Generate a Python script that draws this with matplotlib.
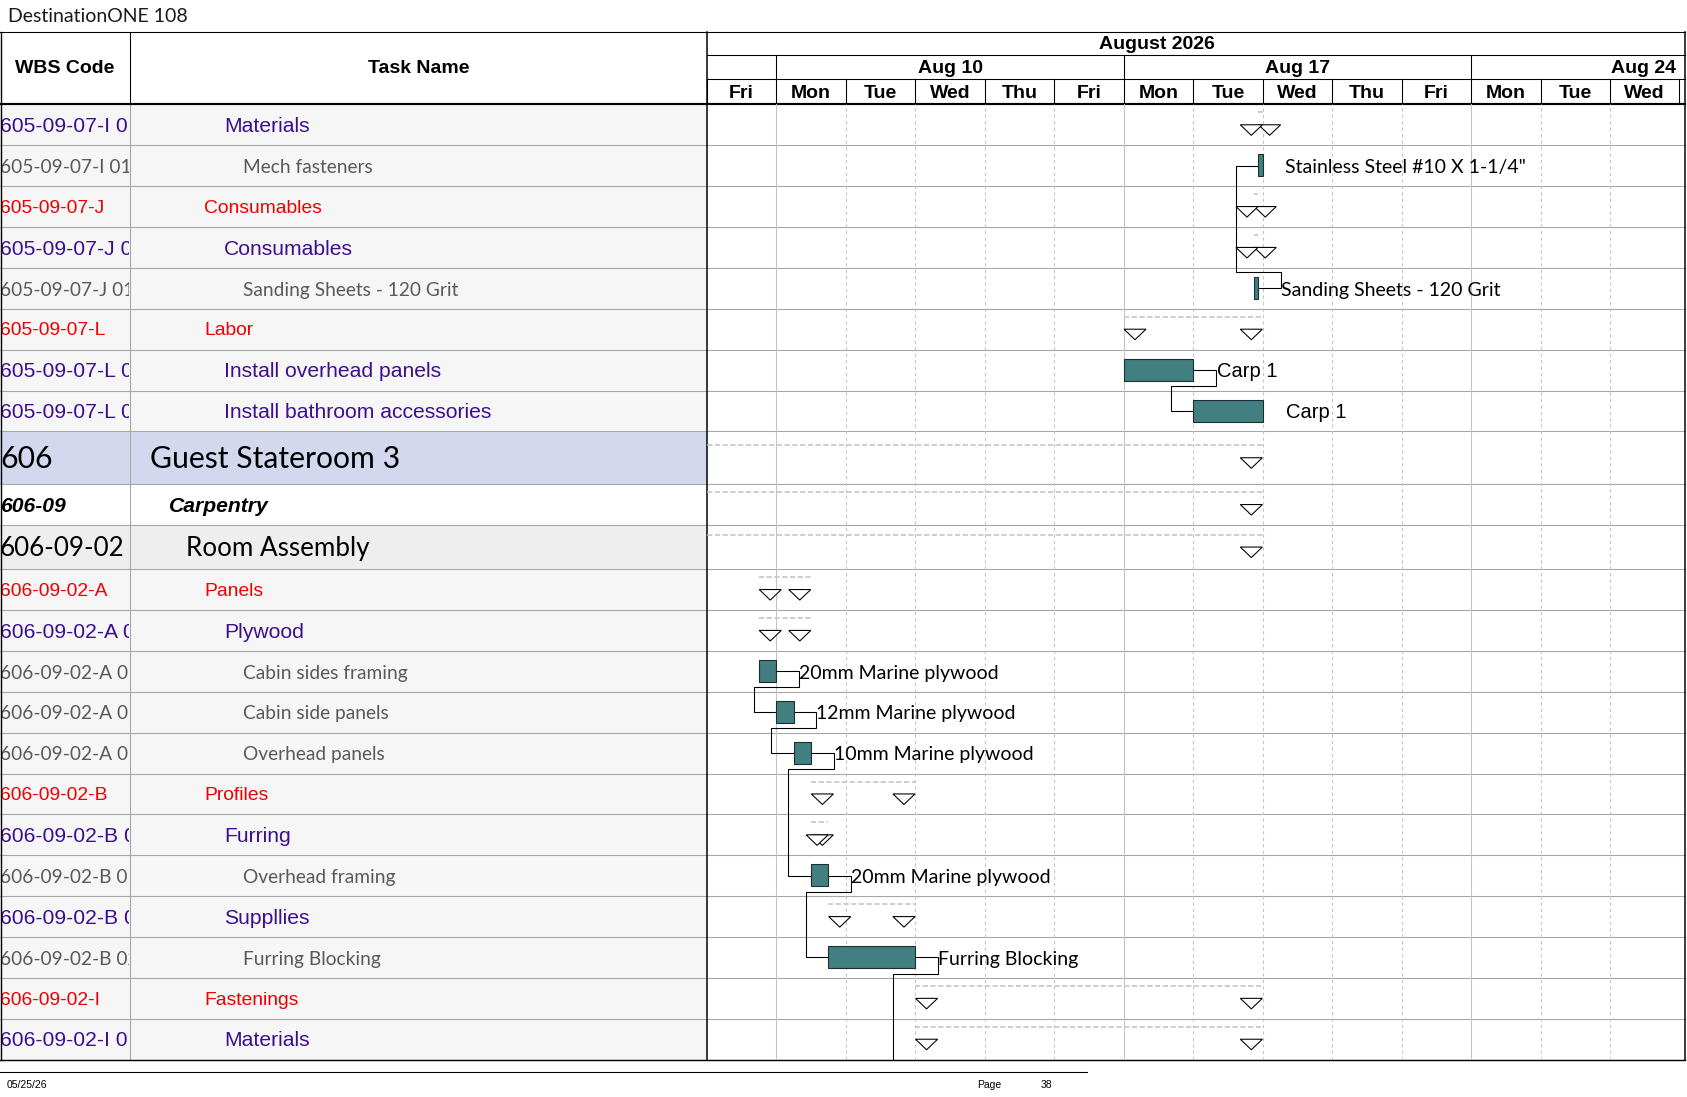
import matplotlib
matplotlib.use('Agg')
import matplotlib.pyplot as plt
from matplotlib.patches import Rectangle, Polygon
import pandas as pd

# ---- Daten ----
days = pd.to_datetime(['2026-08-07', '2026-08-10', '2026-08-11', '2026-08-12', '2026-08-13',
                       '2026-08-14', '2026-08-17', '2026-08-18', '2026-08-19', '2026-08-20',
                       '2026-08-21', '2026-08-24', '2026-08-25', '2026-08-26'])

wbs = ['605-09-07-I 01', '605-09-07-I 01-01', '605-09-07-J', '605-09-07-J 01',
       '605-09-07-J 01-01', '605-09-07-L', '605-09-07-L 01', '605-09-07-L 02',
       '606', '606-09', '606-09-02', '606-09-02-A', '606-09-02-A 01',
       '606-09-02-A 01-01', '606-09-02-A 01-02', '606-09-02-A 01-03', '606-09-02-B',
       '606-09-02-B 01', '606-09-02-B 01-01', '606-09-02-B 02', '606-09-02-B 02-01',
       '606-09-02-I', '606-09-02-I 01']
names = ['Materials', 'Mech fasteners', 'Consumables', 'Consumables',
         'Sanding Sheets - 120 Grit', 'Labor', 'Install overhead panels',
         'Install bathroom accessories', 'Guest Stateroom 3', 'Carpentry', 'Room Assembly',
         'Panels', 'Plywood', 'Cabin sides framing', 'Cabin side panels', 'Overhead panels',
         'Profiles', 'Furring', 'Overhead framing', 'Suppllies', 'Furring Blocking',
         'Fastenings', 'Materials']
levels = ['mat', 'item', 'grp', 'mat', 'item', 'grp', 'mat', 'mat', 'l1', 'l2', 'l3',
          'grp', 'mat', 'item', 'item', 'item', 'grp', 'mat', 'item', 'mat', 'item',
          'grp', 'mat']

# Sammelvorgänge (Zeile, Start, Ende) in Arbeitstagen ab Fr 07.08.
sum_rows = [0, 2, 3, 5, 8, 9, 10, 11, 12, 16, 17, 19, 21, 22]
sum_start = [7.9375, 7.875, 7.875, 6.0, -3.0, -3.0, -3.0, 0.75, 0.75, 1.5, 1.5, 1.75, 3.0, 3.0]
sum_finish = [8.0, 7.9375, 7.9375, 8.0, 8.0, 8.0, 8.0, 1.5, 1.5, 3.0, 1.75, 3.0, 8.0, 8.0]

# Vorgänge (Zeile 23 = nächste Seite)
task_rows = [1, 4, 6, 7, 13, 14, 15, 18, 20, 23]
task_start = [7.9375, 7.875, 6.0, 7.0, 0.75, 1.0, 1.25, 1.5, 1.75, 3.0]
task_finish = [8.0, 7.9375, 7.0, 8.0, 1.0, 1.25, 1.5, 1.75, 3.0, 3.0625]
task_labels = ['Stainless Steel #10 X 1-1/4"', 'Sanding Sheets - 120 Grit', 'Carp 1', 'Carp 1',
               '20mm Marine plywood', '12mm Marine plywood', '10mm Marine plywood',
               '20mm Marine plywood', 'Furring Blocking', '']
task_label_font = ['cal', 'cal', 'arial', 'arial', 'cal', 'cal', 'cal', 'cal', 'cal', 'cal']

# Verknüpfungen (Index Vorgänger, Index Nachfolger, Art)
link_pred = [0, 2, 4, 5, 6, 7, 8]
link_succ = [1, 3, 5, 6, 7, 8, 9]
link_type = ['SF', 'FS', 'FS', 'FS', 'FS', 'FS', 'FS']

# ---- Layout (Pixel der Vorlage) ----
W, H = 1568, 1019.7
X_WBS, X_NAME, X_GANTT, X_RIGHT = 0, 121, 657, 1566
Y_TOP, Y_M, Y_W, Y_BODY = 30, 51, 73, 97
DAYW = 64.571
TY = 1.6  # Textversatz nach unten
row_h = [38] * 8 + [49, 38, 41] + [38] * 13
row_top = [Y_BODY]
for h in row_h[:-1]:
    row_top.append(row_top[-1] + h)
row_mid = [t + h / 2 for t, h in zip(row_top, row_h)]
N = len(wbs)
Y_BOTTOM = row_top[N]

ARIAL = 'Liberation Sans'
CAL = 'Lato'
PURPLE = '#3d0f8f'
RED = '#ee0000'
GREY = '#595959'
TEAL = '#417f80'
LINE = '#a6a6a6'
px = 0.72 * 1687 / 1568  # Punkt pro Vorlage-Pixel
HS = 14  # Kopfzeilen-Schriftgröße

st = {
    'mat':  dict(x=208, fam=ARIAL, size=15.2, color=PURPLE, weight='normal', style='normal', bg='#f6f6f6'),
    'item': dict(x=226, fam=CAL, size=13.8, color=GREY, weight='normal', style='normal', bg='#f6f6f6'),
    'grp':  dict(x=190, fam=ARIAL, size=13.9, color=RED, weight='normal', style='normal', bg='#f6f6f6'),
    'l1':   dict(x=139, fam=CAL, size=21.7, color='black', weight='normal', style='normal', bg='#d3d8ef'),
    'l2':   dict(x=157, fam=ARIAL, size=15.2, color='black', weight='bold', style='italic', bg='white'),
    'l3':   dict(x=173, fam=CAL, size=18.7, color='black', weight='normal', style='normal', bg='#eeeeee'),
}

fig = plt.figure(figsize=(16.87, 10.97), dpi=100)
base = fig.add_axes([0, 0, 1, 1])
base.set_xlim(0, W)
base.set_ylim(H, 0)
base.axis('off')

# Titel und Fußzeile
base.text(7, 14 + TY, 'DestinationONE 108', family=CAL, fontsize=14,
          color='#1a1a1a', ha='left', va='center')
base.plot([0, 1010], [996, 996], color='black', lw=px)
base.text(6.5, 1008.5, '05/25/26', family=ARIAL, fontsize=7.5, ha='left', va='center')
base.text(908.6, 1008.5, 'Page', family=ARIAL, fontsize=7.5, ha='left', va='center')
base.text(967, 1008.5, '38', family=ARIAL, fontsize=7.5, ha='left', va='center')

# Tabelle links
for i in range(N):
    s = st[levels[i]]
    base.add_patch(Rectangle((X_WBS, row_top[i]), X_GANTT - X_WBS, row_h[i],
                             facecolor=s['bg'], edgecolor='none', zorder=0))
    clip = Rectangle((X_WBS, row_top[i]), X_NAME - X_WBS - 1, row_h[i], transform=base.transData)
    t = base.text(X_WBS, row_mid[i] + TY, wbs[i], family=s['fam'], fontsize=s['size'], color=s['color'],
                  fontweight=s['weight'], fontstyle=s['style'], ha='left', va='center', clip_on=True)
    t.set_clip_path(clip)
    base.text(s['x'], row_mid[i] + TY, names[i], family=s['fam'], fontsize=s['size'], color=s['color'],
              fontweight=s['weight'], fontstyle=s['style'], ha='left', va='center')
    base.plot([0, X_RIGHT], [row_top[i] + row_h[i]] * 2, color=LINE, lw=px, zorder=1)
base.plot([X_NAME, X_NAME], [Y_BODY, Y_BOTTOM], color=LINE, lw=px, zorder=1)

# Kopfzeile
base.text((X_WBS + X_NAME) / 2, 62 + TY, 'WBS Code', family=ARIAL, fontweight='bold', fontsize=HS,
          ha='center', va='center')
base.text((X_NAME + X_GANTT) / 2, 62 + TY, 'Task Name', family=ARIAL, fontweight='bold', fontsize=HS,
          ha='center', va='center')
base.text(1075, 40 + TY, days[0].strftime('%B %Y'), family=ARIAL, fontweight='bold', fontsize=HS,
          ha='center', va='center')


def dx(t):
    return X_GANTT + DAYW * t


for i, d in enumerate(days):
    base.text(dx(i + 0.5), 85 + TY, d.strftime('%a'), family=ARIAL, fontweight='bold', fontsize=HS,
              ha='center', va='center')
    base.plot([dx(i), dx(i)], [Y_W, Y_BODY], color='black', lw=px)
    if d.weekday() == 0:
        base.text(min(dx(i + 2.5), X_RIGHT - 38), 62 + TY, d.strftime('%b %d').replace(' 0', ' '),
                  family=ARIAL, fontweight='bold', fontsize=HS, ha='center', va='center')
        base.plot([dx(i), dx(i)], [Y_M, Y_W], color='black', lw=px)
base.plot([dx(len(days)), dx(len(days))], [Y_W, Y_BODY], color='black', lw=px)
base.plot([X_GANTT, X_RIGHT], [Y_M, Y_M], color='black', lw=px)
base.plot([X_GANTT, X_RIGHT], [Y_W, Y_W], color='black', lw=px)

# Rahmen
base.plot([0, X_RIGHT], [Y_TOP, Y_TOP], color='black', lw=px)
base.plot([0, X_RIGHT], [Y_BODY, Y_BODY], color='black', lw=2 * px, zorder=5)
base.plot([0, X_RIGHT], [Y_BOTTOM, Y_BOTTOM], color='black', lw=1.3 * px, zorder=5)
base.plot([0.7, 0.7], [Y_TOP, Y_BOTTOM], color='black', lw=1.3 * px, zorder=5)
base.plot([X_NAME, X_NAME], [Y_TOP, Y_BODY], color='black', lw=px)
base.plot([X_GANTT, X_GANTT], [Y_TOP, Y_BOTTOM], color='black', lw=1.4 * px, zorder=5)
base.plot([X_RIGHT, X_RIGHT], [Y_TOP, Y_BOTTOM], color='black', lw=1.4 * px, zorder=5)

# ---- Gantt ----
ax = fig.add_axes([X_GANTT / W, 1 - Y_BOTTOM / H, (X_RIGHT - X_GANTT) / W, (Y_BOTTOM - Y_BODY) / H])
ax.set_xlim(0, (X_RIGHT - X_GANTT) / DAYW)
ax.set_ylim(Y_BOTTOM, Y_BODY)
ax.axis('off')
ax.patch.set_alpha(0)

for i, d in enumerate(days):
    if i == 0:
        continue
    if d.weekday() == 0:
        ax.axvline(i, color='#c4c4c4', lw=px, zorder=1)
    else:
        ax.axvline(i, color='#c4c4c4', lw=px, ls=(0, (3, 3)), zorder=1)

p = 1 / DAYW  # Tage pro Pixel
tw, th = 20.5 * p, 9.8
for r, s, f in zip(sum_rows, sum_start, sum_finish):
    m = row_mid[r]
    ax.plot([s, f], [m - 11.5, m - 11.5], color='#c8c8c8', lw=1.6 * px, ls=(0, (3, 1.5)), zorder=2)
    for c in (s + 10.5 * p, f - 10.5 * p):
        ax.add_patch(Polygon([(c - tw / 2, m), (c + tw / 2, m), (c, m + th)], closed=True,
                             facecolor='white', edgecolor='black', lw=px, zorder=4))

for r, s, f, lab, lf in zip(task_rows, task_start, task_finish, task_labels, task_label_font):
    m = row_mid[r]
    ax.add_patch(Rectangle((s, m - 10.5), f - s, 20.5, facecolor=TEAL, edgecolor='#1e2e2e',
                           lw=px, zorder=4))
    if lf == 'arial':
        ax.text(f + 22 * p, m + TY, lab, family=ARIAL, fontsize=14.5, ha='left', va='center', zorder=5)
    else:
        ax.text(f + 21 * p, m + TY, lab, family=CAL, fontsize=14, ha='left', va='center', zorder=5)

for a, b, k in zip(link_pred, link_succ, link_type):
    pm, sm = row_mid[task_rows[a]], row_mid[task_rows[b]]
    if k == 'FS':
        x1 = task_finish[a] + 21 * p
        x2 = task_start[b] - 21 * p
        xs = [task_finish[a], x1, x1, x2, x2, task_start[b]]
        ys = [pm, pm, pm + 15, pm + 15, sm, sm]
    else:
        x1 = task_start[a] - 21 * p
        x2 = task_finish[b] + 21 * p
        xs = [task_start[a], x1, x1, x2, x2, task_finish[b]]
        ys = [pm, pm, sm - 15, sm - 15, sm, sm]
    ax.plot(xs, ys, color='black', lw=px, zorder=3, solid_joinstyle='miter')

plt.savefig('out.png', dpi=100)
plt.close()
